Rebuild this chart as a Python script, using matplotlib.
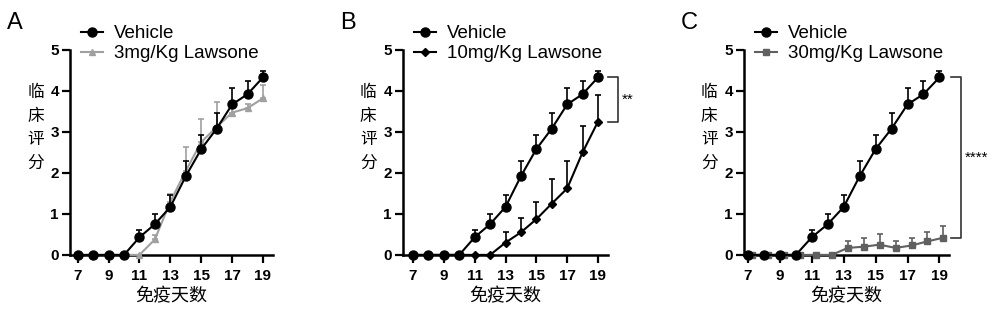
import numpy as np
import matplotlib.pyplot as plt
from matplotlib.lines import Line2D

plt.rcParams['font.family'] = ['Liberation Sans', 'Noto Sans CJK SC', 'DejaVu Sans']

# Data (days after immunisation, clinical score, upper SEM)
days = np.arange(7, 20)
vehicle = [0, 0, 0, 0, 0.43, 0.75, 1.17, 1.92, 2.58, 3.08, 3.67, 3.92, 4.33]
vehicle_err = [0, 0, 0, 0, 0.17, 0.25, 0.28, 0.36, 0.35, 0.39, 0.40, 0.33, 0.15]

law3 = [0, 0, 0, 0, 0, 0.38, 1.3, 2.05, 2.75, 3.12, 3.47, 3.58, 3.82]
law3_err = [0, 0, 0, 0, 0, 0.1, 0.18, 0.57, 0.57, 0.6, 0.22, 0.1, 0.33]

law10 = [0, 0, 0, 0, 0, 0, 0.3, 0.55, 0.87, 1.25, 1.62, 2.5, 3.25]
law10_err = [0, 0, 0, 0, 0, 0, 0.25, 0.35, 0.43, 0.6, 0.66, 0.65, 0.65]

law30 = [0, 0, 0, 0, 0, 0, 0.17, 0.2, 0.25, 0.17, 0.23, 0.33, 0.42]
law30_err = [0, 0, 0, 0, 0, 0, 0.18, 0.22, 0.25, 0.18, 0.19, 0.22, 0.28]

panels = [
    ('A', '3mg/Kg Lawsone', law3, law3_err, '^', '#a0a0a0', 0.0, (6.5, 19.65), None),
    ('B', '10mg/Kg Lawsone', law10, law10_err, 'D', 'black', 0.0, (6.35, 19.65), '**'),
    ('C', '30mg/Kg Lawsone', law30, law30_err, 's', '#606060', 0.25, (6.75, 19.6), '****'),
]
axes_left = [0.070, 0.403, 0.744]
axes_width = [0.203, 0.205, 0.205]

fig = plt.figure(figsize=(10, 3.12), dpi=100)

for i, (lab, name, vals, errs, mk, col, dx, xl, star) in enumerate(panels):
    ax = fig.add_axes([axes_left[i], 0.183, axes_width[i], 0.657])
    zeros = np.zeros(len(days))
    ms = 4 if mk == 'D' else 5
    ax.errorbar(days, vehicle, yerr=[zeros, vehicle_err], color='black', marker='o',
                ms=6.5, lw=1.5, capsize=2.5, elinewidth=1.2, capthick=1.2,
                clip_on=False, zorder=4)
    ax.errorbar(days + dx, vals, yerr=[zeros, errs], color=col, marker=mk,
                ms=ms, lw=1.5, capsize=2.5, elinewidth=1.2, capthick=1.2,
                clip_on=False, zorder=3)
    ax.set_xlim(*xl)
    ax.set_ylim(0, 5)
    ax.set_xticks([7, 9, 11, 13, 15, 17, 19])
    ax.set_yticks(range(0, 6))
    for s in ['top', 'right']:
        ax.spines[s].set_visible(False)
    for s in ['left', 'bottom']:
        ax.spines[s].set_linewidth(1.8)
    ax.tick_params(axis='x', which='major', length=6, width=1.6, labelsize=11, pad=4)
    ax.tick_params(axis='y', which='major', length=6, width=1.6, labelsize=11, pad=2)
    for t in ax.get_xticklabels() + ax.get_yticklabels():
        t.set_fontweight('bold')
    ax.set_xlabel('免疫天数', fontsize=13, family=['Noto Sans CJK SC'], labelpad=3)
    ax.text(-0.17, 0.62, '临\n床\n评\n分', transform=ax.transAxes, ha='center', va='center',
            fontsize=12, family=['Noto Sans CJK SC'], linespacing=1.5)
    fig.text(axes_left[i] - 0.063, 0.925, lab, fontsize=17, ha='left', va='center')

    handles = [Line2D([], [], color='black', marker='o', ms=6.5, lw=1.5),
               Line2D([], [], color=col, marker=mk, ms=ms, lw=1.5)]
    ax.legend(handles, ['Vehicle', name], loc='upper left', bbox_to_anchor=(0.055, 1.12),
              frameon=False, fontsize=13.5, handlelength=1.15, borderaxespad=0,
              borderpad=0, labelspacing=0.15, handletextpad=0.6)

    if star is not None:
        xb0 = 19.65 if lab == 'B' else 19.7
        xb = xb0 + 0.65
        y_top = vehicle[-1]
        y_bot = vals[-1]
        ax.plot([xb0, xb, xb, xb0], [y_top, y_top, y_bot, y_bot],
                color='#333333', lw=1.2, clip_on=False)
        ax.text(xb + 0.25, (y_top + y_bot) / 2, star, fontsize=11, ha='left',
                va='center', clip_on=False)

fig.savefig('out.png', dpi=100)
